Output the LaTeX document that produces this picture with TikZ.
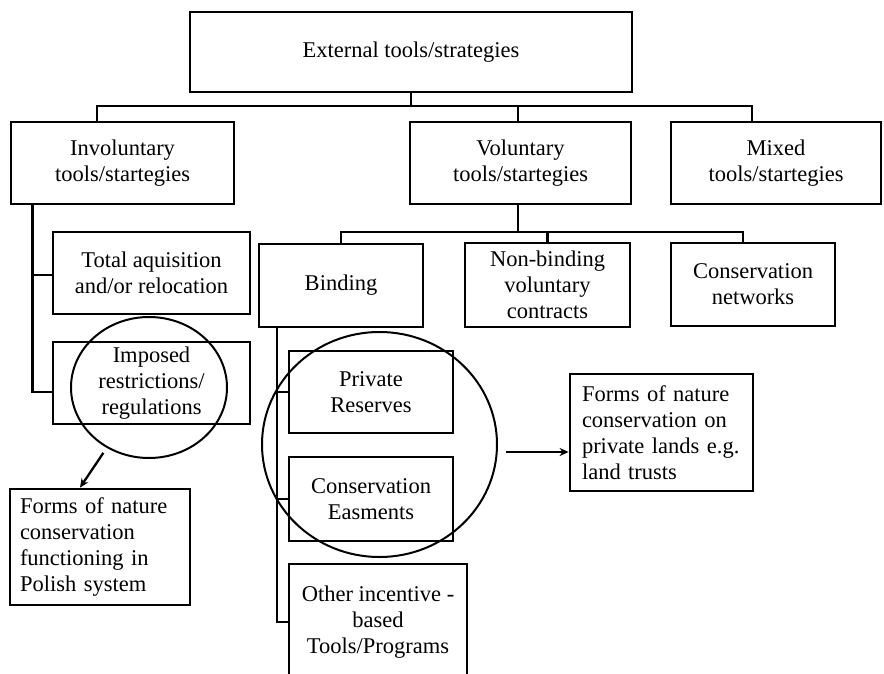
\documentclass[tikz,border=0pt]{standalone}
\usepackage{fontspec}
\setmainfont{Liberation Serif}
\usetikzlibrary{shapes.geometric,arrows.meta,calc}
\begin{document}
\begin{tikzpicture}[x=1pt,y=-1pt,
  box/.style={draw, line width=2.8pt, inner sep=0pt, align=center, font=\fontsize{22.5}{26}\selectfont},
  conn/.style={line width=2.6pt},
  ring/.style={draw, ellipse, line width=2pt, inner sep=0pt},
  arr/.style={line width=2.3pt, -{Stealth[length=9pt,width=8pt]}}]
\clip (0,0) rectangle (884,674);
% level 1
\node[box, minimum width=442pt, minimum height=80pt] (top) at (411,52) {External tools/strategies};
% level 2
\node[box, minimum width=223pt, minimum height=82pt] (inv) at (122.5,163) {Involuntary\\tools/startegies};
\node[box, minimum width=221pt, minimum height=82pt] (vol) at (520.5,163) {Voluntary\\tools/startegies};
\node[box, minimum width=210pt, minimum height=82pt] (mix) at (776,163) {Mixed\\tools/startegies};
% involuntary children
\node[box, minimum width=197pt, minimum height=82pt] (tot) at (151.5,273) {Total aquisition\\and/or relocation};
\node[box, minimum width=197pt, minimum height=82pt] (imp) at (151.5,383) {Imposed\\restrictions/\\regulations};
\node[box, minimum width=180pt, minimum height=116pt, align=left, text width=160pt] (pol) at (100,547) {Forms of nature\\conservation\\functioning in\\Polish system};
% voluntary children
\node[box, minimum width=164pt, minimum height=83pt] (bin) at (341,285.5) {Binding};
\node[box, minimum width=165pt, minimum height=84pt] (non) at (547.5,285) {Non-binding\\voluntary\\contracts};
\node[box, minimum width=164pt, minimum height=83pt] (net) at (753,284.5) {Conservation\\networks};
% binding children
\node[box, minimum width=164pt, minimum height=82pt] (pri) at (371,392) {Private\\Reserves};
\node[box, minimum width=164pt, minimum height=84pt] (eas) at (371,499) {Conservation\\Easments};
\node[box, minimum width=178pt, minimum height=116pt] (oth) at (378,622) {Other incentive -\\based\\Tools/Programs};
\node[box, minimum width=183pt, minimum height=117pt, align=left, text width=159pt] (lnd) at (661.5,432.5) {Forms of nature\\conservation on\\private lands e.g.\\land trusts};
% rings
\node[ring, minimum width=156pt, minimum height=141pt] (c1) at (149,387.5) {};
\node[ring, minimum width=235pt, minimum height=225pt] (c2) at (379.5,444.5) {};
% connectors level 1-2
\coordinate (hub) at (411,106);
\draw[conn] (top.south) -- (hub);
\draw[conn] ([xshift=-25.5pt]inv.north) |- (hub) -| ([xshift=-24pt]mix.north);
\draw[conn] ([xshift=-2.5pt]vol.north) -- ([xshift=-2.5pt]vol.north |- hub);
% involuntary
\draw[conn] ([xshift=-90pt]inv.south) |- ([yshift=-9pt]imp.west);
\draw[conn] ([yshift=-2pt]tot.west) -| ([xshift=-90pt]inv.south);
% voluntary
\coordinate (hub2) at (518,232);
\draw[conn] ([xshift=-2.5pt]vol.south) -- (hub2);
\draw[conn] (bin.north) |- (hub2) -| ([xshift=-10pt]net.north);
\draw[conn] (non.north) -- (non.north |- hub2);
% binding
\draw[conn] ([xshift=-64pt]bin.south) |- (oth.west);
\draw[conn] (pri.west) -| ([xshift=-64pt]bin.south);
\draw[conn] (eas.west) -| ([xshift=-64pt]bin.south);
% arrows
\coordinate (p1) at ([xshift=-20pt]pol.north);
\draw[arr, shorten <=6pt] (c1.235) -- (p1);
\coordinate (ae) at ([yshift=-19.5pt]lnd.west);
\coordinate (as) at ([xshift=8pt]c2.east);
\draw[arr] (as |- ae) -- (ae);
\end{tikzpicture}
\end{document}
